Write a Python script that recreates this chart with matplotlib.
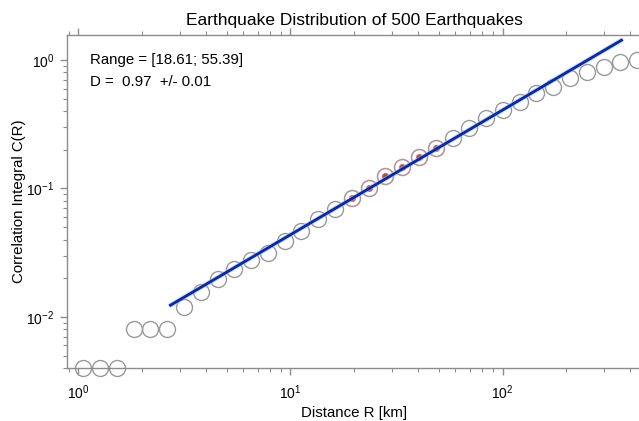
# Import libraries
import numpy as np
import matplotlib
matplotlib.use('Agg')
import matplotlib.pyplot as plt
from matplotlib.ticker import LogLocator, NullFormatter

plt.rcParams['font.family'] = ['Liberation Sans', 'DejaVu Sans']

# Data
distance_km = [1.053, 1.264, 1.516, 1.820, 2.184, 2.620, 3.144, 3.773, 4.528,
               5.433, 6.520, 7.824, 9.389, 11.27, 13.52, 16.22, 19.47, 23.36,
               28.03, 33.64, 40.37, 48.44, 58.13, 69.76, 83.71, 100.5, 120.5,
               144.6, 173.6, 208.3, 249.9, 299.9, 359.9, 431.9]
corr_integral = [0.004, 0.004, 0.004, 0.008, 0.008, 0.008, 0.012, 0.0156,
                 0.0196, 0.0238, 0.0276, 0.0315, 0.039, 0.0468, 0.0574,
                 0.0698, 0.085, 0.100, 0.1247, 0.1474, 0.1745, 0.2073,
                 0.248, 0.2935, 0.3514, 0.4077, 0.473, 0.550, 0.619, 0.720,
                 0.811, 0.887, 0.97, 1.0]
fit_range = [18.61, 55.39]
fit_dim = 0.97
fit_err = 0.01
fit_log_intercept = -2.330
fit_line_r = [2.68, 369.0]

r = np.array(distance_km)
c = np.array(corr_integral)
in_fit = (r >= fit_range[0]) & (r <= fit_range[1])

# Figure layout (axes runs just past the right edge, as in the reference)
W, H = 639, 421
fig = plt.figure(figsize=(W / 100, H / 100), dpi=100)
ax = fig.add_axes([67 / W, 1 - 368 / H, (641 - 67) / W, (368 - 35) / H])

grey = '#8c8c8c'

# Data points
ax.plot(r, c, 'o', ms=11.5, mfc='none', mec='#999999', mew=1.0, clip_on=False, zorder=2)
ax.plot(r[in_fit], c[in_fit], 'o', ms=11.5, mfc='none', mec='#d09090',
        mew=1.0, alpha=0.6, zorder=3)
ax.plot(r[in_fit], c[in_fit], 'o', ms=4.5, mfc='#b02020', mec='#c06060',
        mew=0.5, alpha=0.85, zorder=3)

# Fit line
lr = np.array(fit_line_r)
lc = 10 ** fit_log_intercept * lr ** fit_dim
ax.plot(lr, lc, color='#9db4ff', lw=3.4, alpha=0.6, solid_capstyle='butt', zorder=4)
ax.plot(lr, lc, color='#0a2a9a', lw=2.0, solid_capstyle='butt', zorder=5)

# Axes styling
ax.set_xscale('log')
ax.set_yscale('log')
ax.set_xlim(0.883, 450)
ax.set_ylim(0.004, 1.566)
for side in ['left', 'bottom', 'top']:
    ax.spines[side].set_color(grey)
    ax.spines[side].set_linewidth(1.0)
ax.spines['right'].set_visible(False)
ax.xaxis.set_minor_locator(LogLocator(base=10, subs=np.arange(2, 10)))
ax.yaxis.set_minor_locator(LogLocator(base=10, subs=np.arange(2, 10)))
ax.xaxis.set_minor_formatter(NullFormatter())
ax.yaxis.set_minor_formatter(NullFormatter())
ax.tick_params(which='both', direction='out', color=grey, labelsize=10,
               top=True, right=False, labeltop=False)
ax.tick_params(which='major', length=5, width=1.0, pad=6)
ax.tick_params(which='minor', length=3, width=0.8)
ax.tick_params(axis='y', which='major', pad=4)

# Labels and annotations
ax.set_title('Earthquake Distribution of 500 Earthquakes', fontsize=12.5, pad=7)
ax.set_xlabel('Distance R [km]', fontsize=10.8, labelpad=3)
ax.set_ylabel('Correlation Integral C(R)', fontsize=10.8, labelpad=0)
ax.text(90 / W, 1 - 60 / H, 'Range = [%.2f; %.2f]' % tuple(fit_range),
        transform=fig.transFigure, fontsize=10.8, va='center')
ax.text(90 / W, 1 - 82 / H, 'D =  %.2f  +/- %.2f' % (fit_dim, fit_err),
        transform=fig.transFigure, fontsize=10.8, va='center')

fig.savefig('out.png', dpi=100)
